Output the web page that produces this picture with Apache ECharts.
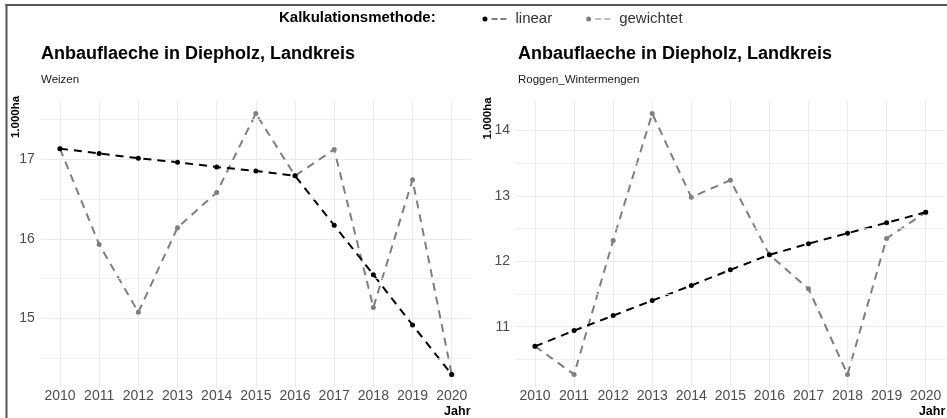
<!DOCTYPE html>
<html>
<head>
<meta charset="utf-8">
<script src="https://cdn.jsdelivr.net/npm/echarts@6/dist/echarts.min.js"></script>
<style>
html,body{margin:0;padding:0;background:#fff;}
#chart{width:947px;height:418px;}
</style>
</head>
<body>
<div id="chart"></div>
<script>
var years = ['2010','2011','2012','2013','2014','2015','2016','2017','2018','2019','2020'];
var weizenLinear    = [17.13, 17.07, 17.01, 16.96, 16.90, 16.85, 16.79, 16.17, 15.55, 14.92, 14.30];
var weizenGewichtet = [17.13, 15.93, 15.08, 16.14, 16.58, 17.57, 16.79, 17.12, 15.14, 16.74, 14.30];
var roggenLinear    = [10.70, 10.94, 11.17, 11.40, 11.63, 11.87, 12.10, 12.27, 12.43, 12.59, 12.75];
var roggenGewichtet = [10.70, 10.27, 12.32, 14.26, 12.98, 13.24, 12.10, 11.58, 10.27, 12.35, 12.75];
var weizenMinor = [14.5, 15.5, 16.5, 17.5];
var roggenMinor = [10.5, 11.5, 12.5, 13.5];

var FONT = "'Liberation Sans', Arial, Helvetica, sans-serif";
var GRID_COLOR = '#ebebeb';
var chart = echarts.init(document.getElementById('chart'), null, {renderer: 'canvas'});

function xAxisCfg(gi) {
  return {
    type: 'category', gridIndex: gi, data: years, boundaryGap: true,
    axisLine: {show: false}, axisTick: {show: false},
    axisLabel: {interval: 0, margin: 2, color: '#4d4d4d', fontSize: 14, fontFamily: FONT},
    splitLine: {show: true, interval: 0, alignWithLabel: true, lineStyle: {color: GRID_COLOR, width: 1}}
  };
}
function yAxisCfg(gi, mn, mx) {
  return {
    type: 'value', gridIndex: gi, min: mn, max: mx, scale: true,
    axisLine: {show: false}, axisTick: {show: false},
    axisLabel: {margin: 5.5, color: '#4d4d4d', fontSize: 14, fontFamily: FONT, showMinLabel: false, showMaxLabel: false},
    splitLine: {show: true, showMinLine: false, showMaxLine: false, lineStyle: {color: GRID_COLOR, width: 1}}
  };
}
function minorLines(gi, vals) {
  return {
    type: 'line', xAxisIndex: gi, yAxisIndex: gi, data: [], silent: true, z: 0,
    markLine: {
      silent: true, symbol: ['none','none'], label: {show: false},
      lineStyle: {color: GRID_COLOR, width: 0.8, type: 'solid'},
      emphasis: {disabled: true},
      animation: false,
      data: vals.map(function (v) { return {yAxis: v}; })
    }
  };
}
function lineSeries(name, gi, data, color, z) {
  return {
    name: name, type: 'line', xAxisIndex: gi, yAxisIndex: gi, data: data,
    symbol: 'circle', symbolSize: 5, showSymbol: true, z: z,
    itemStyle: {color: color},
    lineStyle: {color: color, width: 2, type: [8, 6]},
    emphasis: {disabled: true}
  };
}

var legendIcon = 'path://M0,2.5A2.5,2.5 0 1,0 5,2.5A2.5,2.5 0 1,0 0,2.5Z M9,1.9L15,1.9L15,3.1L9,3.1Z M18,1.9L24,1.9L24,3.1L18,3.1Z';

var option = {
  backgroundColor: '#ffffff',
  animation: false,
  textStyle: {fontFamily: FONT},
  title: [
    {text: 'Kalkulationsmethode:', left: 279, top: 10.5, padding: 0,
     textStyle: {fontSize: 15, fontWeight: 'bold', color: '#000', fontFamily: FONT}},
    {text: 'Anbauflaeche in Diepholz, Landkreis', left: 41, top: 45.5, padding: 0,
     textStyle: {fontSize: 18, fontWeight: 'bold', color: '#000', fontFamily: FONT}},
    {text: 'Weizen', left: 41, top: 74, padding: 0,
     textStyle: {fontSize: 11.5, fontWeight: 'normal', color: '#1a1a1a', fontFamily: FONT}},
    {text: 'Anbauflaeche in Diepholz, Landkreis', left: 518, top: 45.5, padding: 0,
     textStyle: {fontSize: 18, fontWeight: 'bold', color: '#000', fontFamily: FONT}},
    {text: 'Roggen_Wintermengen', left: 518, top: 74, padding: 0,
     textStyle: {fontSize: 11.5, fontWeight: 'normal', color: '#1a1a1a', fontFamily: FONT}}
  ],
  legend: {
    data: ['linear', 'gewichtet'], left: 482.5, top: 11.5, padding: 0,
    icon: legendIcon, itemWidth: 24, itemHeight: 5, itemGap: 34,
    textStyle: {fontSize: 15, color: '#333', fontFamily: FONT, padding: [0, 0, 0, 4]},
    selectedMode: false
  },
  grid: [
    {left: 40.4, top: 100.5, width: 430.9, height: 287, containLabel: false},
    {left: 515.5, top: 100.5, width: 429.7, height: 287, containLabel: false}
  ],
  xAxis: [xAxisCfg(0), xAxisCfg(1)],
  yAxis: [yAxisCfg(0, 14.1365, 17.7335), yAxisCfg(1, 10.07, 14.46)],
  series: [
    minorLines(0, weizenMinor),
    minorLines(1, roggenMinor),
    lineSeries('gewichtet', 0, weizenGewichtet, '#7f7f7f', 3),
    lineSeries('linear', 0, weizenLinear, '#000000', 4),
    lineSeries('gewichtet', 1, roggenGewichtet, '#7f7f7f', 3),
    lineSeries('linear', 1, roggenLinear, '#000000', 4)
  ],
  graphic: [
    {type: 'line', shape: {x1: 5.5, y1: 5, x2: 947, y2: 5}, style: {stroke: '#555', lineWidth: 2}, silent: true},
    {type: 'line', shape: {x1: 6.5, y1: 4, x2: 6.5, y2: 418}, style: {stroke: '#555', lineWidth: 2}, silent: true},
    {type: 'text', x: 15.5, y: 117, rotation: Math.PI / 2, silent: true,
     style: {text: '1.000ha', fontSize: 11.5, fontWeight: 'bold', fontFamily: FONT, fill: '#000', align: 'center', verticalAlign: 'middle'}},
    {type: 'text', x: 488, y: 118.5, rotation: Math.PI / 2, silent: true,
     style: {text: '1.000ha', fontSize: 11.5, fontWeight: 'bold', fontFamily: FONT, fill: '#000', align: 'center', verticalAlign: 'middle'}},
    {type: 'text', x: 470.5, y: 412, silent: true,
     style: {text: 'Jahr', fontSize: 12.5, fontWeight: 'bold', fontFamily: FONT, fill: '#000', align: 'right', verticalAlign: 'middle'}},
    {type: 'text', x: 945.3, y: 412, silent: true,
     style: {text: 'Jahr', fontSize: 12.5, fontWeight: 'bold', fontFamily: FONT, fill: '#000', align: 'right', verticalAlign: 'middle'}}
  ]
};
chart.setOption(option);
</script>
</body>
</html>
